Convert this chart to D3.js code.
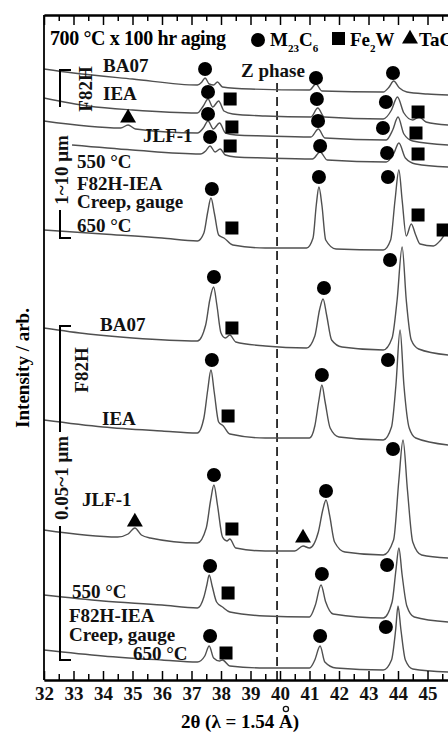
<!DOCTYPE html>
<html>
<head>
<meta charset="utf-8">
<script src="https://cdn.jsdelivr.net/npm/d3@7"></script>
<style>
body { margin: 0; background: #fff; }
svg { display: block; font-family: "Liberation Serif", "Times New Roman", serif; font-weight: bold; }
</style>
</head>
<body>
<svg width="448" height="733"></svg>
<script>
// tick values on the 2theta axis
var majorTicks = [32, 33, 34, 35, 36, 37, 38, 39, 40, 41, 42, 43, 44, 45];
var minorTicks = [32.5, 33.5, 34.5, 35.5, 36.5, 37.5, 38.5, 39.5, 40.5, 41.5, 42.5, 43.5, 44.5, 45.5];
var zPhase = 39.9;

// 1~10 um residues, [2theta, intensity (arb.)]
var coarseBA07 = [[32.0,611],[33.0,607],[35.0,601],[37.2,595],[37.35,598],[37.46,602],[37.6,596],[37.75,595],[37.88,598],
  [38.05,593],[39.0,591],[41.0,590],[41.22,596],[41.42,589],[43.5,588],[43.7,593],[43.85,599],[44.05,592],[44.3,588],[45.0,586],[45.7,585]];
var coarseIEA = [[32.0,582],[33.5,574],[35.0,570],[37.2,567],[37.4,574],[37.56,581],[37.72,573],[37.92,579],[38.1,569],[38.4,566],
  [39.5,564],[41.05,563],[41.28,572],[41.5,563],[43.5,561],[43.78,570],[43.98,583],[44.2,567],[44.5,560],[44.72,563],[44.95,558],[45.7,555]];
var coarseJLF1 = [[32.0,559],[34.6,552],[34.85,555],[35.1,551],[37.2,547],[37.4,552],[37.56,559],[37.74,551],[37.95,557],[38.15,547],
  [38.5,545],[39.5,544],[41.05,543],[41.3,551],[41.52,542],[43.6,540],[43.82,550],[44.0,563],[44.2,546],[44.5,539],[45.7,535]];
var coarse550 = [[32.95,535],[35.0,530],[37.3,526],[37.48,529],[37.63,534],[37.8,528],[37.97,531],[38.15,525],[38.5,523],[39.5,522],
  [41.1,521],[41.36,528],[41.6,520],[43.6,518],[43.85,526],[44.03,537],[44.25,522],[44.6,516],[45.7,513]];
var coarse650 = [[32.0,450],[34.0,446],[36.0,442],[37.2,439],[37.42,447],[37.55,468],[37.66,482],[37.78,466],[37.92,445],[38.1,442],
  [38.4,435],[39.5,432],[40.9,432],[41.12,442],[41.23,475],[41.32,493],[41.42,475],[41.55,440],[41.9,431],[43.5,430],[43.75,440],
  [43.9,480],[44.03,510],[44.14,480],[44.28,444],[44.45,456],[44.6,445],[44.75,436],[45.2,434],[45.45,440],[45.62,446],[45.7,444]];

// 0.05~1 um residues
var fineBA07 = [[32.0,352],[33.5,346],[35.0,342],[37.2,339],[37.48,355],[37.62,380],[37.75,393],[37.86,375],[38.0,347],[38.15,342],
  [38.3,345],[38.5,338],[39.5,334],[40.9,332],[41.18,344],[41.34,370],[41.46,381],[41.58,365],[41.75,340],[42.1,333],[43.5,330],
  [43.8,342],[43.97,380],[44.14,433],[44.28,380],[44.45,340],[44.7,331],[45.7,325]];
var fineIEA = [[32.0,260],[34.0,253],[36.0,249],[37.2,247],[37.42,262],[37.55,290],[37.66,310],[37.77,288],[37.92,258],[38.08,254],
  [38.3,246],[39.5,242],[41.0,242],[41.18,254],[41.32,280],[41.42,295],[41.53,278],[41.7,252],[42.0,243],[43.5,240],[43.78,253],
  [43.93,295],[44.07,350],[44.2,295],[44.38,252],[44.6,242],[45.7,235]];
var fineJLF1 = [[32.0,150],[34.5,143],[34.85,146],[35.08,152],[35.3,145],[35.6,142],[37.2,137],[37.5,152],[37.65,180],[37.76,195],
  [37.88,175],[38.05,143],[38.2,139],[38.3,141],[38.5,132],[39.5,129],[40.5,129],[40.78,134],[41.0,132],[41.3,148],[41.45,170],
  [41.56,180],[41.68,165],[41.85,138],[42.2,128],[43.5,125],[43.85,140],[44.03,200],[44.17,240],[44.32,190],[44.5,138],[44.8,125],[45.7,122]];
var fine550 = [[32.0,85],[34.0,79],[36.0,75],[37.2,72],[37.42,83],[37.52,95],[37.6,105],[37.7,94],[37.85,78],[38.05,73],[38.3,68],
  [39.5,64],[41.0,63],[41.2,75],[41.39,95],[41.55,78],[41.8,66],[43.5,62],[43.8,78],[43.93,110],[44.03,132],[44.14,105],[44.3,74],
  [44.55,63],[45.7,58]];
var fine650 = [[32.0,30],[34.0,24],[36.0,20],[37.2,18],[37.45,24],[37.6,34],[37.75,22],[37.95,19],[38.05,20],[38.3,14],[39.5,12],
  [41.0,12],[41.18,20],[41.36,34],[41.52,18],[41.9,12],[43.5,10],[43.78,20],[43.92,50],[44.0,74],[44.1,50],[44.25,20],[44.5,11],[45.7,8]];

// phase markers, [2theta, intensity]
var m23c6 = [[37.46,611],[41.22,602],[43.83,607],[37.56,588],[41.25,581],[43.59,578],[37.56,566],[41.29,559],[43.49,552],
  [37.63,543],[41.36,534],[43.63,527],[37.69,491],[41.32,503],[43.66,503],[37.76,403],[41.49,392],[43.73,420],
  [37.69,320],[41.42,305],[43.66,320],[37.76,205],[41.56,189],[43.83,231],[37.63,114],[41.42,106],[43.63,115],
  [37.63,44],[41.36,44],[43.59,53]];
var fe2w = [[38.31,581],[44.68,568],[38.37,553],[44.61,547],[38.31,534],[44.68,526],[38.37,452],[44.68,465],[45.53,450],
  [38.37,352],[38.24,264],[38.37,151],[38.24,87],[38.17,27]];
var tac = [[34.85,562],[35.08,158],[40.78,142]];

var traces = [coarseBA07, coarseIEA, coarseJLF1, coarse550, coarse650, fineBA07, fineIEA, fineJLF1, fine550, fine650];

var svg = d3.select("svg");
var x = d3.scaleLinear().domain([32, 46]).range([44, 457]);
var y = d3.scaleLinear().domain([0, 665]).range([680, 15]);

var line = d3.line()
    .x(function(d) { return x(d[0]); })
    .y(function(d) { return y(d[1]); })
    .curve(d3.curveMonotoneX);

// dashed Z phase line
svg.append("line")
    .attr("x1", x(zPhase)).attr("x2", x(zPhase))
    .attr("y1", 83).attr("y2", 680)
    .attr("stroke", "#222").attr("stroke-width", 1.8)
    .attr("stroke-dasharray", "9,5");

svg.selectAll("path.trace")
    .data(traces)
    .enter().append("path")
    .attr("class", "trace")
    .attr("d", line)
    .attr("fill", "none")
    .attr("stroke", "#505050")
    .attr("stroke-width", 1.4);

svg.selectAll("circle.m23")
    .data(m23c6)
    .enter().append("circle")
    .attr("cx", function(d) { return x(d[0]); })
    .attr("cy", function(d) { return y(d[1]); })
    .attr("r", 7)
    .attr("fill", "#000");

svg.selectAll("rect.fe2w")
    .data(fe2w)
    .enter().append("rect")
    .attr("x", function(d) { return x(d[0]) - 6.5; })
    .attr("y", function(d) { return y(d[1]) - 6.5; })
    .attr("width", 13).attr("height", 13)
    .attr("fill", "#000");

var tri = d3.symbol().type(d3.symbolTriangle).size(110);
svg.selectAll("path.tac")
    .data(tac)
    .enter().append("path")
    .attr("d", tri)
    .attr("transform", function(d) { return "translate(" + x(d[0]) + "," + y(d[1]) + ")"; })
    .attr("fill", "#000");

// axes (ticks point inward)
function styleAxis(g) {
  g.attr("font-family", null).attr("font-size", null);
  g.select(".domain").attr("stroke", "#000").attr("stroke-width", 1.8);
  g.selectAll(".tick line").attr("stroke", "#000").attr("stroke-width", 1.5);
  g.selectAll(".tick text").attr("font-size", 19).attr("fill", "#111");
}
svg.append("g").attr("transform", "translate(0,680)")
    .call(d3.axisBottom(x).tickValues(minorTicks).tickSize(-6).tickSizeOuter(0).tickFormat(""))
    .call(styleAxis);
svg.append("g").attr("transform", "translate(0,680)")
    .call(d3.axisBottom(x).tickValues(majorTicks).tickSize(-9).tickSizeOuter(0).tickPadding(7).tickFormat(d3.format("d")))
    .call(styleAxis);
svg.append("g").attr("transform", "translate(0,15)")
    .call(d3.axisTop(x).tickValues(minorTicks).tickSize(-6).tickSizeOuter(0).tickFormat(""))
    .call(styleAxis);
svg.append("g").attr("transform", "translate(0,15)")
    .call(d3.axisTop(x).tickValues(majorTicks).tickSize(-10).tickSizeOuter(0).tickFormat(""))
    .call(styleAxis);
svg.append("line")
    .attr("x1", 44).attr("x2", 44).attr("y1", 15).attr("y2", 680)
    .attr("stroke", "#000").attr("stroke-width", 1.8);

// axis titles
var xt = svg.append("text")
    .attr("x", 240).attr("y", 728)
    .attr("text-anchor", "middle")
    .attr("font-size", 19)
    .text("2θ (λ = 1.54 A)");
var str = xt.text();
var ext = xt.node().getExtentOfChar(str.indexOf("A"));
// angstrom ring, set high above the A as in the source figure
svg.append("circle")
    .attr("cx", ext.x + ext.width / 2).attr("cy", 709)
    .attr("r", 2.6)
    .attr("fill", "none")
    .attr("stroke", "#111")
    .attr("stroke-width", 1.3);

svg.append("text")
    .attr("transform", "translate(29,368) rotate(-90)")
    .attr("text-anchor", "middle")
    .attr("font-size", 19)
    .text("Intensity / arb.");

// header and legend
svg.append("text").attr("x", 50).attr("y", 45).attr("font-size", 20)
    .attr("textLength", 176).attr("lengthAdjust", "spacing")
    .text("700 °C x 100 hr aging");

svg.append("circle").attr("cx", 258).attr("cy", 40).attr("r", 7).attr("fill", "#000");
var lg = svg.append("text").attr("x", 270).attr("y", 46).attr("font-size", 19);
lg.append("tspan").text("M");
lg.append("tspan").attr("font-size", 11).attr("dy", 6).text("23");
lg.append("tspan").attr("dy", -6).text("C");
lg.append("tspan").attr("font-size", 11).attr("dy", 6).text("6");

svg.append("rect").attr("x", 332).attr("y", 32).attr("width", 13).attr("height", 13).attr("fill", "#000");
var lg2 = svg.append("text").attr("x", 350).attr("y", 46).attr("font-size", 19);
lg2.append("tspan").text("Fe");
lg2.append("tspan").attr("font-size", 11).attr("dy", 6).text("2");
lg2.append("tspan").attr("dy", -6).text("W");

svg.append("path").attr("d", tri).attr("transform", "translate(410,39)").attr("fill", "#000");
svg.append("text").attr("x", 419).attr("y", 46).attr("font-size", 19).text("TaC");

// trace labels
var labels = [
  ["BA07", 103, 72], ["IEA", 103, 100], ["JLF-1", 143, 142], ["550 °C", 77, 168],
  ["F82H-IEA", 77, 190], ["Creep, gauge", 77, 208], ["650 °C", 77, 232], ["Z phase", 241, 77],
  ["BA07", 100, 331], ["IEA", 102, 425], ["JLF-1", 82, 506], ["550 °C", 72, 598],
  ["F82H-IEA", 69, 622], ["Creep, gauge", 69, 641], ["650 °C", 133, 660]
];
svg.selectAll("text.lab")
    .data(labels)
    .enter().append("text")
    .attr("class", "lab")
    .attr("x", function(d) { return d[1]; })
    .attr("y", function(d) { return d[2]; })
    .attr("font-size", 19)
    .attr("fill", "#111")
    .text(function(d) { return d[0]; });

// group brackets
var vlabels = [["F82H", 92, 89], ["1~10 μm", 68, 170], ["F82H", 88, 370], ["0.05~1 μm", 68, 478]];
svg.selectAll("text.vlab")
    .data(vlabels)
    .enter().append("text")
    .attr("class", "vlab")
    .attr("transform", function(d) { return "translate(" + d[1] + "," + d[2] + ") rotate(-90)"; })
    .attr("text-anchor", "middle")
    .attr("font-size", 19)
    .attr("fill", "#111")
    .text(function(d) { return d[0]; });

var brackets = [
  "M71,70 H60 V107",
  "M60,210 V238 H71",
  "M71,326 H60 V432",
  "M60,526 V660 H71"
];
svg.selectAll("path.br")
    .data(brackets)
    .enter().append("path")
    .attr("d", function(d) { return d; })
    .attr("fill", "none")
    .attr("stroke", "#000")
    .attr("stroke-width", 2);
</script>
</body>
</html>
